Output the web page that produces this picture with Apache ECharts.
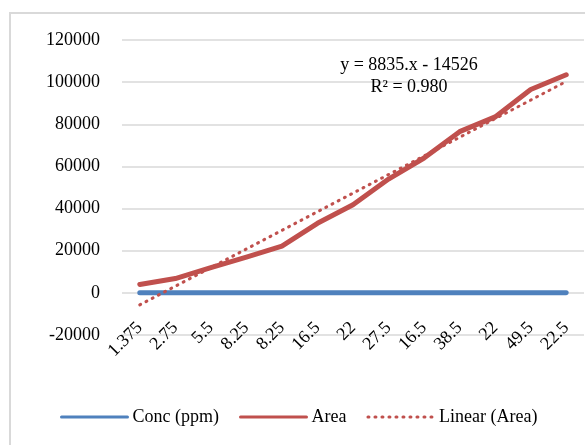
<!DOCTYPE html>
<html>
<head>
<meta charset="utf-8">
<script src="https://cdn.jsdelivr.net/npm/echarts@6/dist/echarts.min.js"></script>
<style>
html,body{margin:0;padding:0;background:#fff;}
#chart{width:585px;height:445px;}
</style>
</head>
<body>
<div id="chart"></div>
<script>
var categories = ['1.375','2.75','5.5','8.25','8.25','16.5','22','27.5','16.5','38.5','22','49.5','22.5'];
var concValues = [1.375,2.75,5.5,8.25,8.25,16.5,22,27.5,16.5,38.5,22,49.5,22.5];
var areaValues = [4000,6800,12000,17000,22200,33000,41800,54000,64000,76500,83500,96500,103500];
var linearValues = [-5691,3144,11979,20814,29649,38484,47319,56154,64989,73824,82659,91494,100329];
var yTicks = {min:-20000, max:120000, interval:20000};
var equationText = 'y = 8835.x - 14526';
var r2Text = 'R² = 0.980';

var FONT = '"Liberation Serif","Times New Roman",serif';
var chart = echarts.init(document.getElementById('chart'));
chart.setOption({
  animation:false,
  backgroundColor:'#fff',
  textStyle:{fontFamily:FONT},
  graphic:[
    {type:'rect', shape:{x:10,y:13,width:700,height:600}, style:{fill:'none',stroke:'#d9d9d9',lineWidth:2}, silent:true, z:-1},
    {type:'text', x:409, y:65, style:{text:equationText, fontFamily:FONT, fontSize:18, fill:'#000', align:'center', verticalAlign:'middle'}, z:10},
    {type:'text', x:409, y:87, style:{text:r2Text, fontFamily:FONT, fontSize:18, fill:'#000', align:'center', verticalAlign:'middle'}, z:10}
  ],
  grid:{left:122, right:1, top:40, bottom:110, containLabel:false},
  legend:{
    left:55, top:403, itemWidth:66, itemHeight:14, itemGap:20,
    itemStyle:{opacity:0},
    lineStyle:{width:3},
    textStyle:{fontFamily:FONT, fontSize:18, color:'#000'},
    data:['Conc (ppm)','Area','Linear (Area)']
  },
  xAxis:{
    type:'category', data:categories, boundaryGap:true,
    offset:-42,
    axisLine:{show:false, onZero:false},
    axisTick:{show:false},
    axisLabel:{interval:0, rotate:45, margin:32, fontFamily:FONT, fontSize:18, color:'#000'},
    splitLine:{show:false}
  },
  yAxis:{
    type:'value', min:yTicks.min, max:yTicks.max, interval:yTicks.interval,
    axisLine:{show:false}, axisTick:{show:false},
    axisLabel:{margin:22, fontFamily:FONT, fontSize:18, color:'#000', formatter:function(v){return String(v);}},
    splitLine:{lineStyle:{color:'#d9d9d9', width:1.5}}
  },
  series:[
    {name:'Conc (ppm)', type:'line', data:concValues, symbol:'none',
     lineStyle:{color:'#4f81bd', width:5, cap:'round'}, itemStyle:{color:'#4f81bd'}, z:3},
    {name:'Area', type:'line', data:areaValues, symbol:'none',
     lineStyle:{color:'#c0504d', width:5, cap:'round', join:'round'}, itemStyle:{color:'#c0504d'}, z:4},
    {name:'Linear (Area)', type:'line', data:linearValues, symbol:'none',
     lineStyle:{color:'#c0504d', width:3, type:[1,6], cap:'round'}, itemStyle:{color:'#c0504d'}, z:5}
  ]
});
</script>
</body>
</html>
